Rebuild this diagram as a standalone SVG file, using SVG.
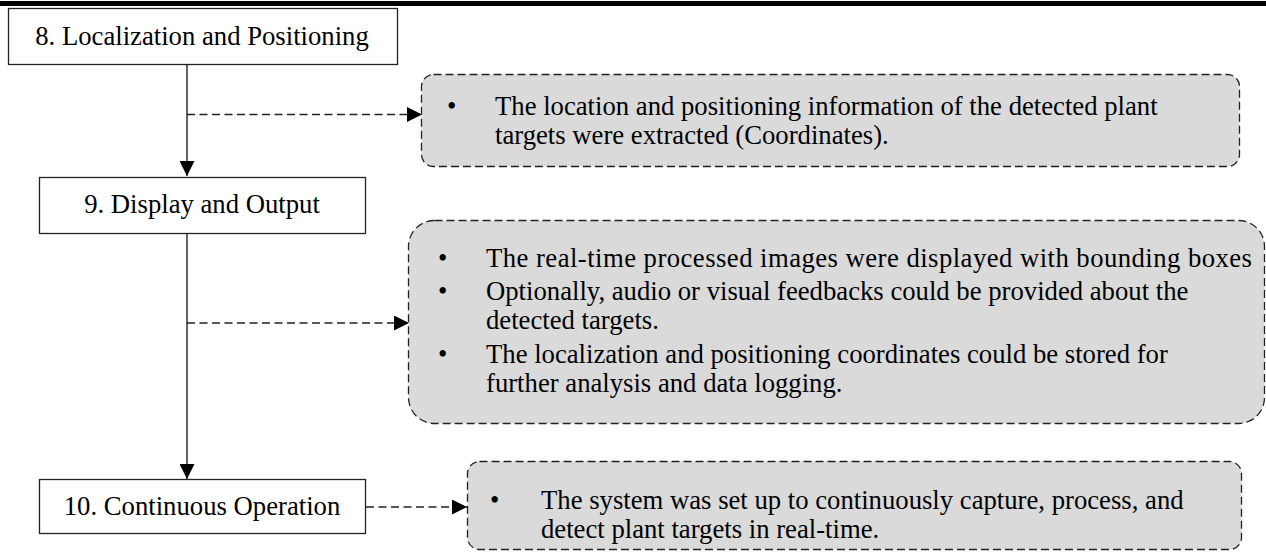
<svg xmlns="http://www.w3.org/2000/svg" width="1266" height="553" viewBox="0 0 1266 553">
<style>
.step{fill:#fff;stroke:#222;stroke-width:1.3}
.note{fill:#dadada;stroke:#222;stroke-width:1.3;stroke-dasharray:8 4}
.t{font-family:"Liberation Serif","Times New Roman",serif;font-size:26.7px;fill:#000}
.c{text-anchor:middle}
.solid{stroke:#111;stroke-width:1.3;fill:none}
.dash{stroke:#222;stroke-width:1.3;fill:none;stroke-dasharray:8 4.5}
</style>
<defs>
<marker id="ah" viewBox="0 0 15 15" refX="15" refY="7.5" markerWidth="15" markerHeight="15" markerUnits="userSpaceOnUse" orient="auto">
<path d="M0,0 L15,7.5 L0,15 Z" fill="#000"/>
</marker>
</defs>
<rect x="0" y="0" width="1266" height="1" fill="#fff"/>
<rect x="0" y="1" width="1266" height="5" fill="#000"/>

<g id="connectors">
<line class="solid" x1="187" y1="64" x2="187" y2="176" marker-end="url(#ah)"/>
<line class="dash" x1="187" y1="114.5" x2="422" y2="114.5" marker-end="url(#ah)"/>
<line class="solid" x1="187" y1="233" x2="187" y2="479" marker-end="url(#ah)"/>
<line class="dash" x1="187" y1="323" x2="409" y2="323" marker-end="url(#ah)"/>
<line class="dash" x1="366" y1="507" x2="467" y2="507" marker-end="url(#ah)"/>
</g>

<g id="step8">
<rect class="step" x="8.5" y="8.5" width="389" height="56"/>
<text class="t c" x="202" y="45">8. Localization and Positioning</text>
</g>

<g id="note8">
<rect class="note" x="421.5" y="74.5" width="818" height="92" rx="12" ry="12"/>
<text class="t" x="447" y="115">•</text>
<text class="t" x="495" y="115">The location and positioning information of the detected plant</text>
<text class="t" x="495" y="144">targets were extracted (Coordinates).</text>
</g>

<g id="step9">
<rect class="step" x="39.5" y="177.5" width="326" height="56"/>
<text class="t c" x="202" y="213">9. Display and Output</text>
</g>

<g id="note9">
<rect class="note" x="408.5" y="220.5" width="856" height="203" rx="26" ry="26"/>
<text class="t" x="438" y="267">•</text>
<text class="t" x="486" y="267" textLength="766" lengthAdjust="spacing">The real-time processed images were displayed with bounding boxes</text>
<text class="t" x="438" y="300">•</text>
<text class="t" x="486" y="300">Optionally, audio or visual feedbacks could be provided about the</text>
<text class="t" x="486" y="329">detected targets.</text>
<text class="t" x="438" y="363">•</text>
<text class="t" x="486" y="363">The localization and positioning coordinates could be stored for</text>
<text class="t" x="486" y="392">further analysis and data logging.</text>
</g>

<g id="step10">
<rect class="step" x="39.5" y="479.5" width="326" height="54"/>
<text class="t c" x="202" y="515">10. Continuous Operation</text>
</g>

<g id="note10">
<rect class="note" x="467.5" y="461.5" width="774" height="88" rx="12" ry="12"/>
<text class="t" x="490" y="509">•</text>
<text class="t" x="541" y="509">The system was set up to continuously capture, process, and</text>
<text class="t" x="541" y="538">detect plant targets in real-time.</text>
</g>
</svg>
